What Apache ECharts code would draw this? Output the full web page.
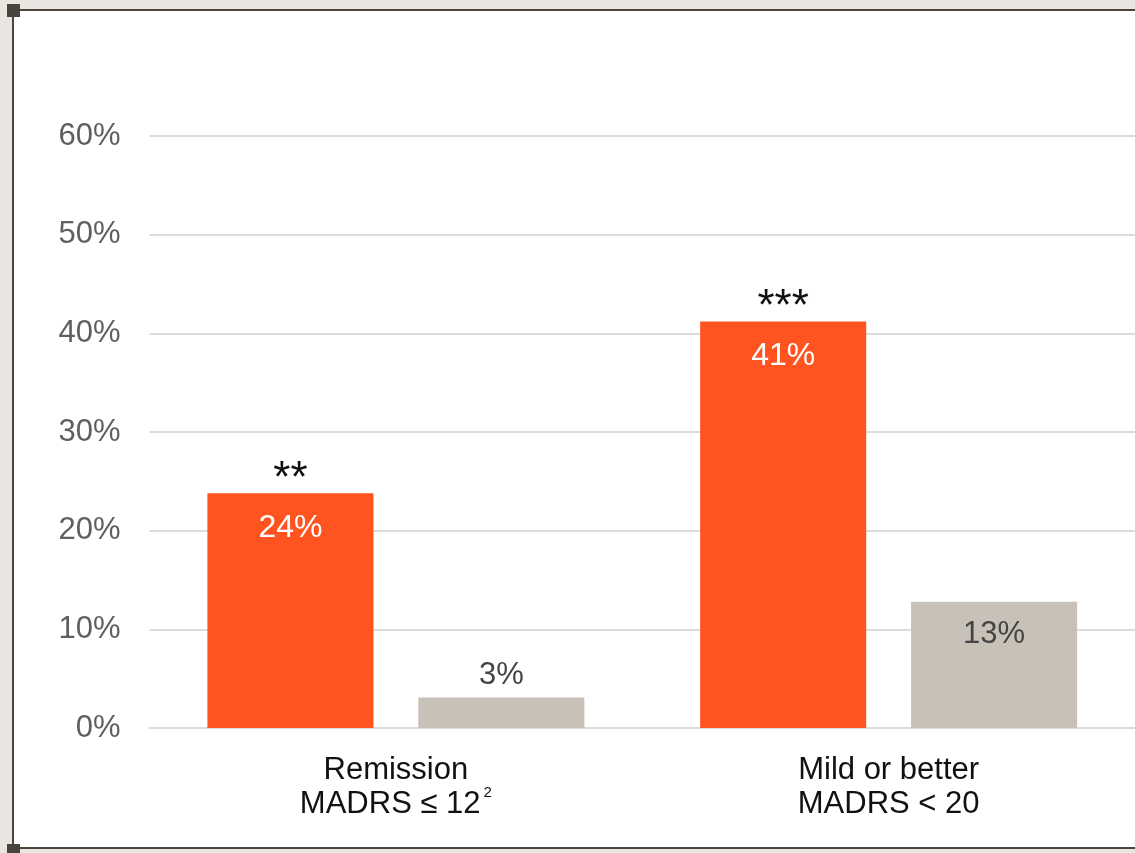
<!DOCTYPE html>
<html>
<head>
<meta charset="utf-8">
<script src="https://cdn.jsdelivr.net/npm/echarts@6/dist/echarts.min.js"></script>
<style>
  html, body { margin: 0; padding: 0; background: #e9e6e1; width: 1135px; height: 853px; overflow: hidden; }
  #paper { position: absolute; left: 12px; top: 9px; width: 1123px; height: 840px; background: #fff;
           border-top: 2px solid #4a443d; border-left: 2px solid #4a443d; border-bottom: 2px solid #4a443d; box-sizing: border-box; }
  .sq { position: absolute; left: 7px; width: 13px; height: 13px; background: #4a443d; }
  #chart { position: absolute; left: 0; top: 0; width: 1135px; height: 853px; }
</style>
</head>
<body>
<div id="paper"></div>
<div class="sq" style="top:4px"></div>
<div class="sq" style="top:844px"></div>
<div id="chart"></div>
<script>
const categories = [['Remission', 'MADRS ≤ 12', '2'], ['Mild or better', 'MADRS < 20', '']];
const treatmentValues = [23.8, 41.2];
const treatmentLabels = ['24%', '41%'];
const significance = ['**', '***'];
const placeboValues = [3.1, 12.8];
const placeboLabels = ['3%', '13%'];
const yTicks = [0, 10, 20, 30, 40, 50, 60];

const chart = echarts.init(document.getElementById('chart'), null, { renderer: 'canvas' });
const FONT = '"Liberation Sans", Arial, sans-serif';

const orangeData = treatmentValues.map((v, i) => ({ value: v, stars: significance[i], lbl: treatmentLabels[i] }));
const greyData = placeboValues.map((v, i) => ({
  value: v,
  label: v < 6
    ? { position: 'top', distance: 7 }
    : { position: 'insideTop', distance: 18 }
}));

chart.setOption({
  animation: false,
  backgroundColor: 'transparent',
  grid: { left: 149.5, top: 136, width: 989, bottom: 125, containLabel: false },
  xAxis: {
    type: 'category',
    data: categories.map(c => c[0]),
    axisTick: { show: false },
    axisLine: { show: true, lineStyle: { color: '#dcdcdc', width: 2 } },
    axisLabel: {
      margin: 25,
      color: '#111',
      fontFamily: FONT,
      fontSize: 31,
      lineHeight: 34,
      formatter: function (val, idx) {
        const c = categories[idx];
        return '{a|' + c[0] + '}\n{a|' + c[1] + '}' + (c[2] ? '{sup|' + c[2] + '}' : '');
      },
      rich: {
        a: { fontFamily: FONT, fontSize: 31, lineHeight: 34, color: '#111' },
        sup: { fontFamily: FONT, fontSize: 15, lineHeight: 34, color: '#111', verticalAlign: 'bottom', padding: [0, 0, 21, 3] }
      }
    }
  },
  yAxis: {
    type: 'value',
    min: 0, max: 60, interval: 10,
    axisLine: { show: false },
    axisTick: { show: false },
    splitLine: { lineStyle: { color: '#dcdcdc', width: 2 } },
    axisLabel: {
      margin: 29,
      color: '#5f5f5f',
      fontFamily: FONT,
      fontSize: 31,
      formatter: v => yTicks.includes(v) ? v + '%' : ''
    }
  },
  series: [
    {
      type: 'bar',
      data: orangeData,
      barGap: '27%',
      barCategoryGap: '23.5%',
      itemStyle: { color: '#ff5420' },
      label: {
        show: true,
        position: ['50%', -27],
        align: 'center',
        verticalAlign: 'top',
        formatter: p => '{s|' + p.data.stars + '}\n{v|' + p.data.lbl + '}',
        rich: {
          s: { fontFamily: FONT, fontSize: 44, lineHeight: 27, color: '#111', align: 'center' },
          v: { fontFamily: FONT, fontSize: 32, lineHeight: 70, color: '#fff', align: 'center' }
        }
      }
    },
    {
      type: 'bar',
      data: greyData,
      itemStyle: { color: '#c7c1b7' },
      label: {
        show: true,
        color: '#444',
        fontFamily: FONT,
        fontSize: 31,
        lineHeight: 30,
        formatter: p => placeboLabels[p.dataIndex]
      }
    }
  ]
});
</script>
</body>
</html>
